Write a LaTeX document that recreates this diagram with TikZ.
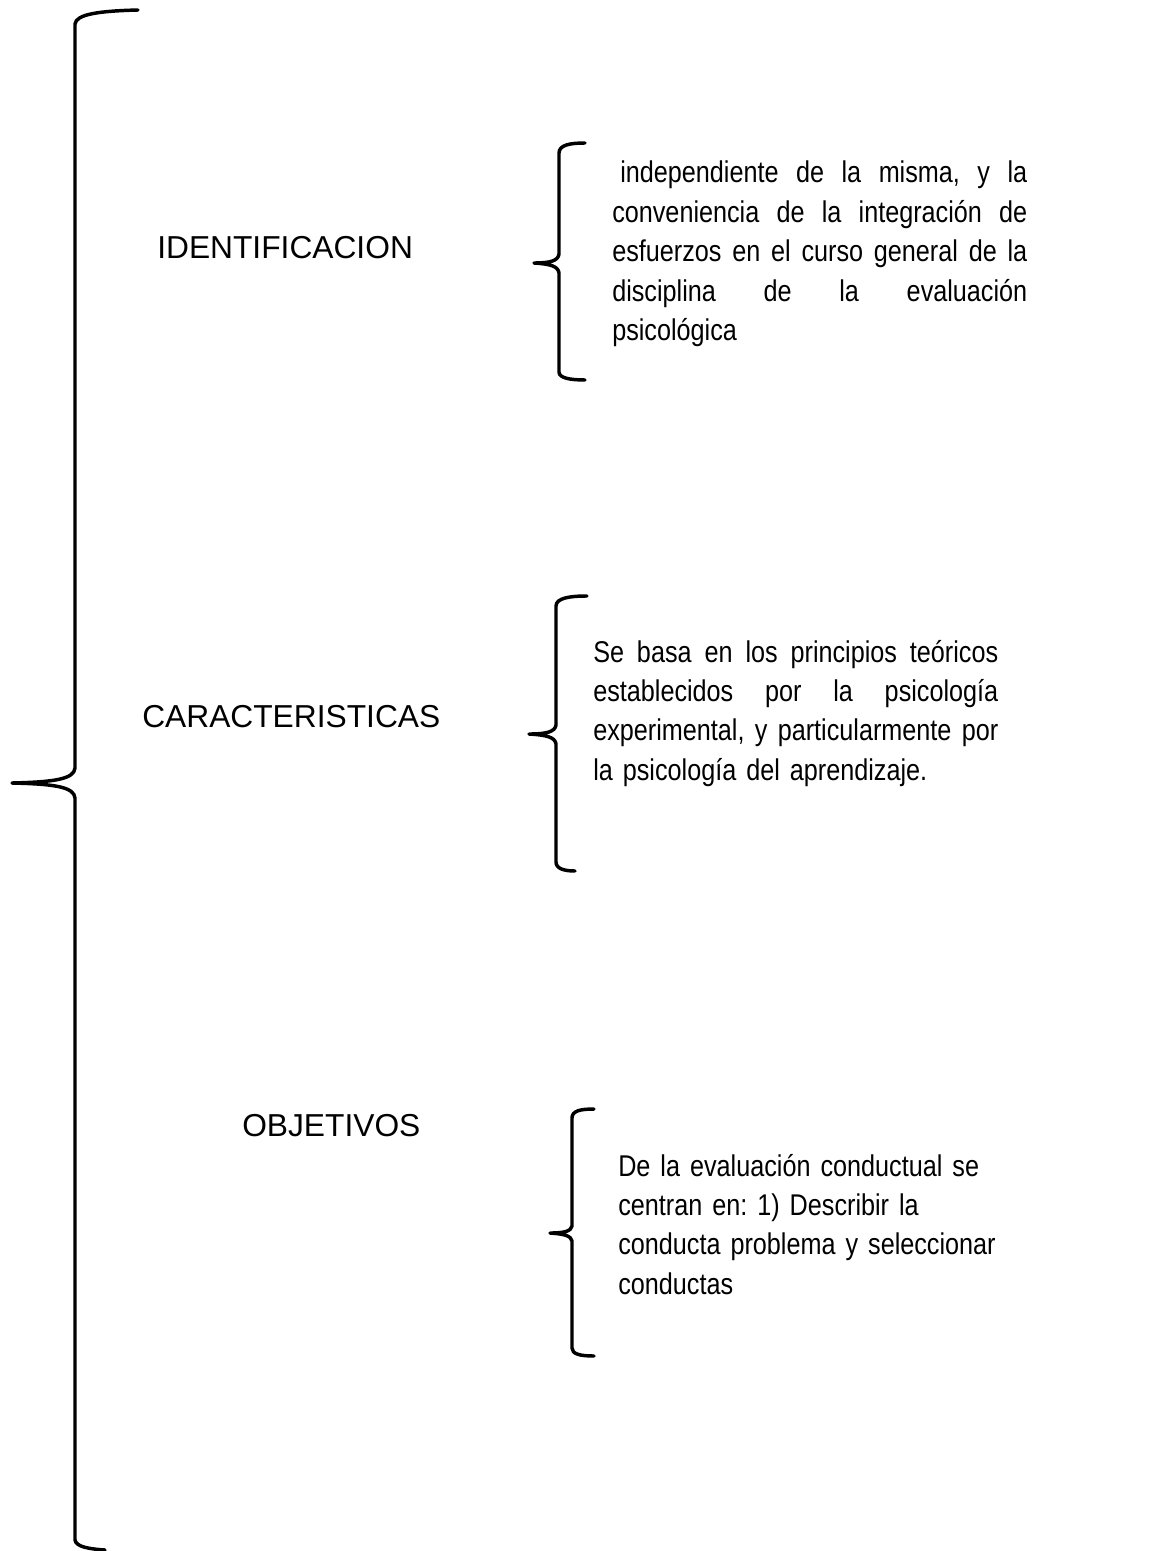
\documentclass[tikz,border=0pt]{standalone}
\usepackage{fontspec}
\setmainfont{Liberation Sans}
\newfontfamily\bodyfont[FakeStretch=0.84]{Liberation Sans}
\frenchspacing
\newcommand\jl[2]{\leavevmode\hbox to #1{\spaceskip=0.3em plus 1fil\relax #2}}
\tikzset{
  bracepath/.style={line width=2.6pt, line cap=round, line join=round},
  label/.style={font=\fontsize{23.8pt}{28pt}\selectfont, anchor=base west, inner sep=0pt},
  body/.style={font=\bodyfont\frenchspacing\fontsize{22.5pt}{29.6pt}\selectfont, anchor=base west, inner sep=0pt, align=left},
}
\begin{document}
\begin{tikzpicture}[x=0.75pt,y=-0.75pt]
\useasboundingbox (0,0) rectangle (1168,1551);
% big brace
\draw[bracepath] (138,10) .. controls (100,11) and (76,14) .. (75,24)
  -- (75,768) .. controls (74,779) and (55,782) .. (12,783)
  .. controls (55,784) and (74,787) .. (75,798)
  -- (75,1540) .. controls (76,1547) and (90,1549) .. (105,1550);
% brace 1
\draw[bracepath] (585,143) .. controls (570,143) and (559,145) .. (559,153)
  -- (559,254) .. controls (558,261) and (550,263) .. (534,263)
  .. controls (550,264) and (558,266) .. (559,273)
  -- (559,372) .. controls (559,378) and (570,380) .. (585,380);
% brace 2
\draw[bracepath] (587,596) .. controls (570,596) and (556,598) .. (556,606)
  -- (556,725) .. controls (555,732) and (546,734) .. (529,734)
  .. controls (546,735) and (555,737) .. (556,744)
  -- (556,862) .. controls (556,869) and (565,871) .. (575,871);
% brace 3
\draw[bracepath] (594,1109) .. controls (580,1109) and (572,1111) .. (572,1118)
  -- (572,1226) .. controls (571,1231) and (565,1233) .. (550,1233)
  .. controls (565,1234) and (571,1236) .. (572,1241)
  -- (572,1348) .. controls (572,1354) and (580,1356) .. (594,1356);
% labels
\node[label] (identificacion) at (157,259) {IDENTIFICACION};
\node[label] (caracteristicas) at (142,727) {CARACTERISTICAS};
\node[label] (objetivos) at (242,1136) {OBJETIVOS};
% text blocks
\node[body, text width=311.25pt] (t1) at (612,183) {%
\jl{311.25pt}{\hspace*{6pt}independiente de la misma, y la}\\
\jl{311.25pt}{conveniencia de la integración de}\\
\jl{311.25pt}{esfuerzos en el curso general de la}\\
\jl{311.25pt}{disciplina de la evaluación}\\
psicológica};
\node[body, text width=303.75pt] (t2) at (593,662) {%
\jl{303.75pt}{Se basa en los principios teóricos}\\
\jl{303.75pt}{establecidos por la psicología}\\
\jl{303.75pt}{experimental, y particularmente por}\\
la psicología del aprendizaje.};
\node[body, text width=330pt] (t3) at (618,1176) {%
De la evaluación conductual se\\
centran en: 1) Describir la\\
conducta problema y seleccionar\\
conductas};
\end{tikzpicture}
\end{document}
